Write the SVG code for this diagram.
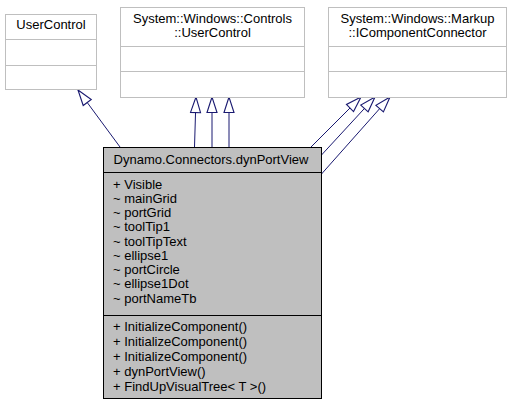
<svg xmlns="http://www.w3.org/2000/svg" width="512" height="405" viewBox="0 0 512 405">
<style>
text{font-family:"Liberation Sans",Arial,sans-serif;font-size:13px;fill:#000}
.c{text-anchor:middle}
.pbox{fill:#fff;stroke:#bfbfbf;stroke-width:1}
.pdiv{stroke:#bfbfbf;stroke-width:1}
.mbox{fill:#bfbfbf;stroke:#000;stroke-width:1}
.mdiv{stroke:#000;stroke-width:1}
.edge{fill:none;stroke:#191970;stroke-width:1}
</style>
<defs>
<marker id="tri" markerUnits="userSpaceOnUse" markerWidth="20" markerHeight="20" refX="0" refY="0" viewBox="-16 -8 18 16" orient="auto" overflow="visible">
<path d="M0,0 L-14,-4.5 L-14,4.5 Z" fill="#fff" stroke="#191970" stroke-width="1"/>
</marker>
</defs>
<rect width="512" height="405" fill="#fff"/>
<g id="connectors">
<path class="edge" d="M120,147 L78,90" marker-end="url(#tri)"/>
<path class="edge" d="M194.5,147 L196,97" marker-end="url(#tri)"/>
<path class="edge" d="M212,147 L212,97" marker-end="url(#tri)"/>
<path class="edge" d="M229,147 L229,97" marker-end="url(#tri)"/>
<path class="edge" d="M311,147 L361,97" marker-end="url(#tri)"/>
<path class="edge" d="M321.5,155 L375,97" marker-end="url(#tri)"/>
<path class="edge" d="M321.5,174 L390,97" marker-end="url(#tri)"/>
</g>
<g id="node-usercontrol">
<rect class="pbox" x="5.5" y="14.5" width="91" height="75"/>
<line class="pdiv" x1="5.5" y1="39.5" x2="96.5" y2="39.5"/>
<line class="pdiv" x1="5.5" y1="65.5" x2="96.5" y2="65.5"/>
<text class="c" x="51" y="29">UserControl</text>
</g>
<g id="node-controls-usercontrol">
<rect class="pbox" x="120.5" y="7.5" width="184" height="90"/>
<line class="pdiv" x1="120.5" y1="46.5" x2="304.5" y2="46.5"/>
<line class="pdiv" x1="120.5" y1="71.5" x2="304.5" y2="71.5"/>
<text class="c" x="212.5" y="23">System::Windows::Controls</text>
<text class="c" x="212.5" y="37">::UserControl</text>
</g>
<g id="node-icomponentconnector">
<rect class="pbox" x="328.5" y="7.5" width="178" height="90"/>
<line class="pdiv" x1="328.5" y1="46.5" x2="506.5" y2="46.5"/>
<line class="pdiv" x1="328.5" y1="71.5" x2="506.5" y2="71.5"/>
<text class="c" x="417.5" y="23">System::Windows::Markup</text>
<text class="c" x="417.5" y="37">::IComponentConnector</text>
</g>
<g id="node-dynportview">
<rect class="mbox" x="103.5" y="147.5" width="218" height="251"/>
<line class="mdiv" x1="103.5" y1="172.5" x2="321.5" y2="172.5"/>
<line class="mdiv" x1="103.5" y1="315.5" x2="321.5" y2="315.5"/>
<text class="c" x="211" y="164">Dynamo.Connectors.dynPortView</text>
<text x="113" y="188.5">+ Visible</text>
<text x="113" y="202.75">~ mainGrid</text>
<text x="113" y="217">~ portGrid</text>
<text x="113" y="231.25">~ toolTip1</text>
<text x="113" y="245.5">~ toolTipText</text>
<text x="113" y="259.75">~ ellipse1</text>
<text x="113" y="274">~ portCircle</text>
<text x="113" y="288.25">~ ellipse1Dot</text>
<text x="113" y="302.5">~ portNameTb</text>
<text x="113" y="331">+ InitializeComponent()</text>
<text x="113" y="346">+ InitializeComponent()</text>
<text x="113" y="361">+ InitializeComponent()</text>
<text x="113" y="376">+ dynPortView()</text>
<text x="113" y="391">+ FindUpVisualTree&lt; T &gt;()</text>
</g>
</svg>
